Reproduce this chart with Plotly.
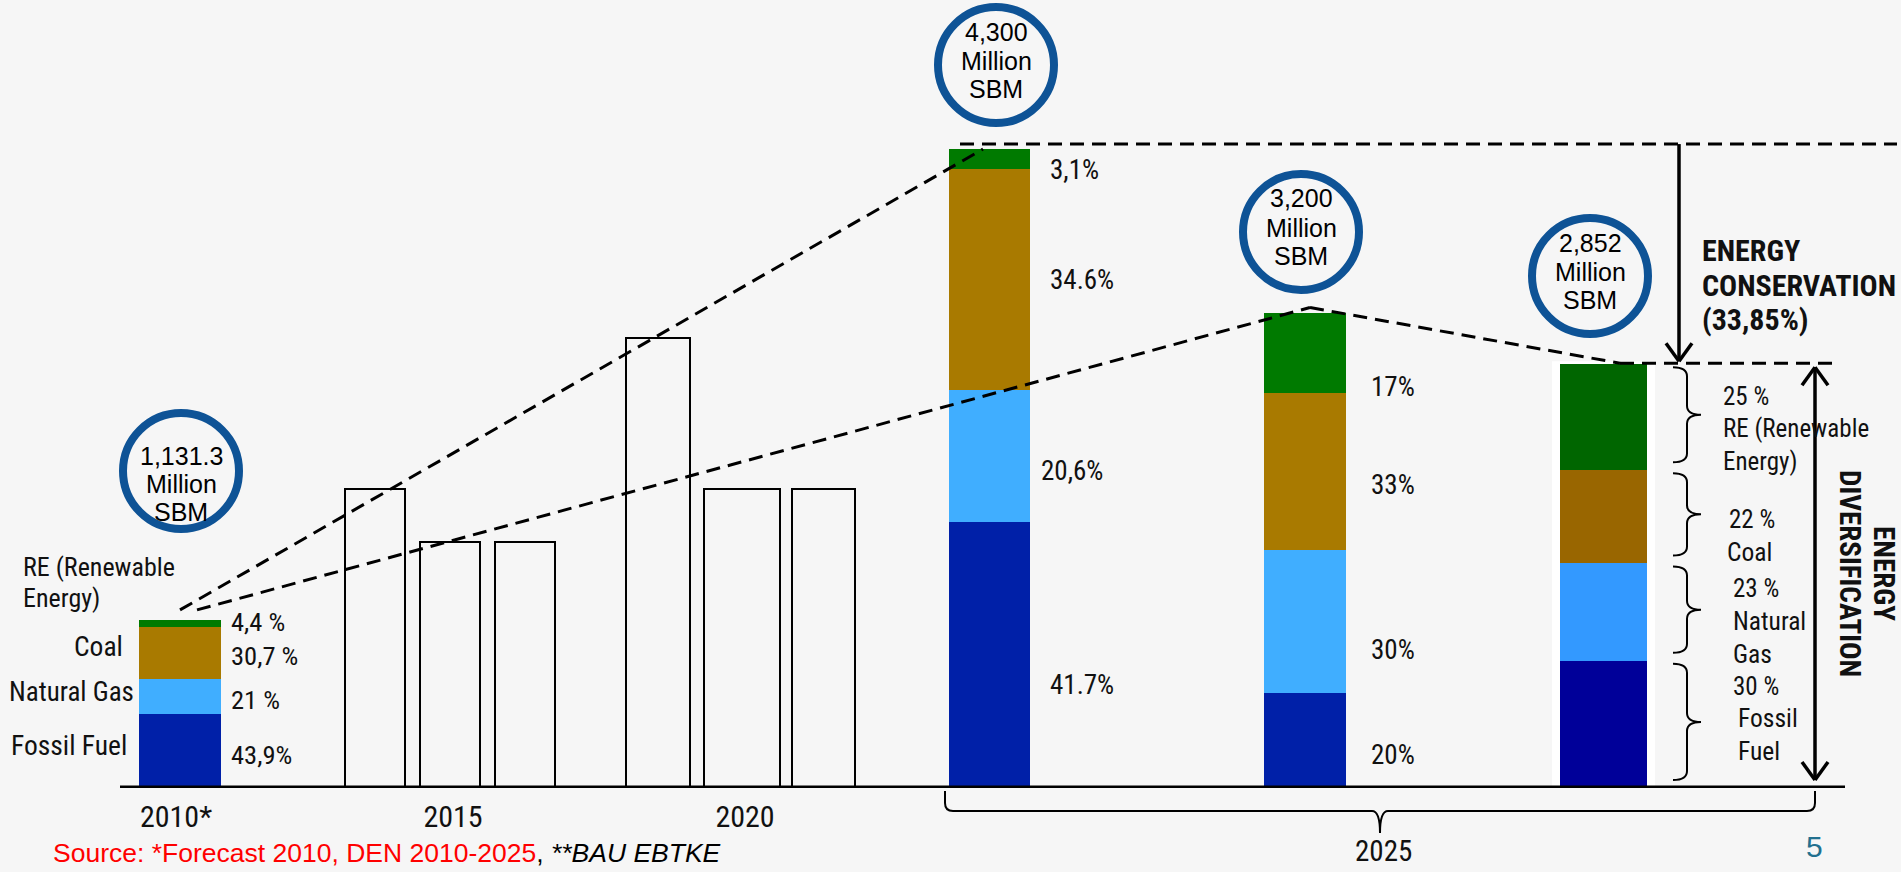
import plotly.graph_objects as go

# ---------------- data ----------------
scenario_names = ["2010", "2025 BAU", "2025 DEN", "2025 target"]
total_msbm = [1131.3, 4300, 3200, 2852]
total_text = ["1,131.3", "4,300", "3,200", "2,852"]

fossil_pct = [43.9, 41.7, 20, 30]
gas_pct = [21, 20.6, 30, 23]
coal_pct = [30.7, 34.6, 33, 22]
re_pct = [4.4, 3.1, 17, 25]

fossil_text = ["43,9%", "41.7%", "20%", "30 %"]
gas_text = ["21 %", "20,6%", "30%", "23 %"]
coal_text = ["30,7 %", "34.6%", "33%", "22 %"]
re_text = ["4,4 %", "3,1%", "17%", "25 %"]

interim_msbm = [2010, 1655, 1655, 3030, 2010, 2010]

year_ticks = ["2010*", "2015", "2020"]
year_2025 = "2025"

# ---------------- layout constants ----------------
W, H = 1901, 872
BASE_PX = 788          # pixel row of the baseline
Y_PER_PX = 6.73        # MSBM per pixel
Y_MAX = BASE_PX * Y_PER_PX

main_x = [180, 989.5, 1305, 1603.5]
main_w = [82, 81, 82, 87]
interim_x = [375, 450, 525, 658, 742, 823]
interim_w = [60, 60, 60, 64, 76, 63]
tick_x = [176, 453, 745]

NARROW = "Liberation Sans Narrow, Arial Narrow, Roboto Condensed, DejaVu Sans Condensed, sans-serif"
SANS = "Liberation Sans, Arial, sans-serif"
RING = "#0E5396"

seg_colors = {
    "Fossil Fuel": ["#0020A8", "#0020A8", "#0020A8", "#000099"],
    "Natural Gas": ["#40AEFF", "#40AEFF", "#40AEFF", "#3399FF"],
    "Coal": ["#A97A00", "#A97A00", "#A97A00", "#996600"],
    "RE": ["#007A00", "#007A00", "#007A00", "#006600"],
}


def dy(px):
    """pixel distance -> MSBM"""
    return px * Y_PER_PX


def px_x(x):
    return x / W


def px_y(y):
    return 1 - y / H


segments = []
for name, pct in [("Fossil Fuel", fossil_pct), ("Natural Gas", gas_pct),
                  ("Coal", coal_pct), ("RE", re_pct)]:
    segments.append((name, [t * p / 100 for t, p in zip(total_msbm, pct)]))

fig = go.Figure()

for name, vals in segments:
    fig.add_trace(go.Bar(
        x=main_x, y=vals, width=main_w, name=name,
        marker=dict(color=seg_colors[name], line=dict(width=0)),
        hovertext=scenario_names, showlegend=False,
    ))

fig.add_trace(go.Bar(
    x=interim_x, y=interim_msbm, width=interim_w, name="interim",
    marker=dict(color="rgba(0,0,0,0)", line=dict(color="black", width=2.5)),
    showlegend=False,
))

shapes = []

# white panel behind the 2852 bar
shapes.append(dict(type="rect", xref="x", yref="y", layer="below",
                   x0=main_x[3] - main_w[3] / 2 - 8, x1=main_x[3] + main_w[3] / 2 + 8,
                   y0=0, y1=total_msbm[3] + dy(3),
                   fillcolor="white", line=dict(width=0)))

# baseline
shapes.append(dict(type="line", xref="x", yref="y", x0=120, x1=1845, y0=0, y1=0,
                   line=dict(color="black", width=5)))

DASH = dict(color="black", width=3, dash="14px,8px")
top_level = total_msbm[1] + dy(5)
low_level = total_msbm[3] + dy(1)
start_2010 = total_msbm[0] + dy(10)

# growth trend lines from 2010
shapes.append(dict(type="line", xref="x", yref="y", x0=main_x[0], y0=start_2010,
                   x1=983, y1=total_msbm[1], line=DASH))
shapes.append(dict(type="line", xref="x", yref="y", x0=main_x[0] + 17, y0=start_2010,
                   x1=1310, y1=total_msbm[2] + dy(5), line=DASH))
shapes.append(dict(type="line", xref="x", yref="y", x0=1310, y0=total_msbm[2] + dy(5),
                   x1=1620, y1=low_level, line=DASH))
# reference levels
shapes.append(dict(type="line", xref="x", yref="y", x0=960, x1=1897,
                   y0=top_level, y1=top_level, line=DASH))
shapes.append(dict(type="line", xref="x", yref="y", x0=1620, x1=1837,
                   y0=low_level, y1=low_level, line=DASH))

ARROW = dict(color="black", width=3.5)


def chevron(x, tip, up):
    s = 1 if up else -1
    return [
        dict(type="line", xref="x", yref="y", x0=x - 13, y0=tip - s * dy(18),
             x1=x, y1=tip, line=ARROW),
        dict(type="line", xref="x", yref="y", x0=x + 13, y0=tip - s * dy(18),
             x1=x, y1=tip, line=ARROW),
    ]


# energy conservation arrow
cons_x = 1679
shapes.append(dict(type="line", xref="x", yref="y", x0=cons_x, x1=cons_x,
                   y0=top_level, y1=low_level + dy(2), line=ARROW))
shapes += chevron(cons_x, low_level + dy(2), up=False)

# energy diversification arrow
div_x = 1815
div_top = low_level - dy(4)
div_bot = dy(8)
shapes.append(dict(type="line", xref="x", yref="y", x0=div_x, x1=div_x,
                   y0=div_top, y1=div_bot, line=ARROW))
shapes += chevron(div_x, div_top, up=True)
shapes += chevron(div_x, div_bot, up=False)


# curly braces beside the 2852 bar, one per segment
def brace_right(y_top, y_bot, xe=1673, xv=1687, xt=1701):
    h = dy(9)
    ym = (y_top + y_bot) / 2
    return (f"M {xe},{y_top} Q {xv},{y_top} {xv},{y_top - h} "
            f"L {xv},{ym + h} Q {xv},{ym} {xt},{ym} "
            f"Q {xv},{ym} {xv},{ym - h} "
            f"L {xv},{y_bot + h} Q {xv},{y_bot} {xe},{y_bot}")


cum = 0
bounds = []
for _, vals in segments:
    bounds.append((cum, cum + vals[3]))
    cum += vals[3]
for lo, hi in bounds:
    shapes.append(dict(type="path", xref="x", yref="y",
                       path=brace_right(hi - dy(3), lo + dy(8)),
                       line=dict(color="black", width=2)))


# horizontal brace under the 2025 group (paper coordinates)
def pt(x, y):
    return f"{px_x(x)},{px_y(y)}"


xl, xr, xm = 945, 1815, 1380
ye, ys, ytip, r = 791, 811, 833, 8
brace_path = (f"M {pt(xl, ye)} L {pt(xl, ys - r)} Q {pt(xl, ys)} {pt(xl + r, ys)} "
              f"L {pt(xm - r, ys)} Q {pt(xm, ys)} {pt(xm, ytip)} "
              f"Q {pt(xm, ys)} {pt(xm + r, ys)} L {pt(xr - r, ys)} "
              f"Q {pt(xr, ys)} {pt(xr, ys - r)} L {pt(xr, ye)}")
shapes.append(dict(type="path", xref="paper", yref="paper", path=brace_path,
                   line=dict(color="black", width=2)))

# total-volume rings
ring_pos = [(181, 471), (996, 65), (1301, 232), (1590, 276)]
ring_line_y = [(456, 484, 512), (32, 61, 89), (198, 228, 256), (243, 272, 300)]
R = 58
for cx, cy in ring_pos:
    shapes.append(dict(type="circle", xref="paper", yref="paper",
                       x0=px_x(cx - R), x1=px_x(cx + R),
                       y0=px_y(cy + R), y1=px_y(cy - R),
                       line=dict(color=RING, width=8)))

annotations = []


def label(text, x, y, size=27, family=NARROW, anchor="left", color="#111111", **kw):
    annotations.append(dict(text=text, x=px_x(x), y=px_y(y), xref="paper", yref="paper",
                            xanchor=anchor, yanchor="middle", showarrow=False,
                            font=dict(family=family, size=size, color=color), **kw))


for (cx, _), ys3, tt in zip(ring_pos, ring_line_y, total_text):
    for line_txt, ly in zip([tt, "Million", "SBM"], ys3):
        label(line_txt, cx, ly, size=25, family=SANS, anchor="center", color="black")

# 2010 segment labels
for txt, y in zip([re_text[0], coal_text[0], gas_text[0], fossil_text[0]],
                  [621, 655, 699, 754]):
    label(txt, 229, y, size=26.5)
label("RE (Renewable", 21, 567, size=26)
label("Energy)", 21, 598, size=26)
label("Coal", 125, 646, size=27.5, anchor="right")
label("Natural Gas", 7, 692, size=27)
label("Fossil Fuel", 9, 745, size=27.5)

# 4,300 bar labels
for txt, (x, y) in zip([re_text[1], coal_text[1], gas_text[1], fossil_text[1]],
                       [(1048, 170), (1048, 280), (1039, 471), (1048, 685)]):
    label(txt, x, y)

# 3,200 bar labels
for txt, y in zip([re_text[2], coal_text[2], gas_text[2], fossil_text[2]],
                  [387, 485, 650, 755]):
    label(txt, 1369, y)

# 2,852 bar labels
label(re_text[3], 1721, 396, size=25)
label("RE (Renewable", 1721, 428, size=25)
label("Energy)", 1721, 461, size=25)
label(coal_text[3], 1727, 519, size=25)
label("Coal", 1725, 552, size=25.5)
label(gas_text[3], 1731, 588, size=25)
label("Natural", 1731, 621, size=25.5)
label("Gas", 1731, 654, size=25.5)
label(fossil_text[3], 1731, 686, size=25)
label("Fossil", 1736, 718, size=25.5)
label("Fuel", 1736, 751, size=25.5)

for txt, y in zip(["ENERGY", "CONSERVATION", "(33,85%)"], [250, 285, 319]):
    label(f"<b>{txt}</b>", 1700, y, size=30)
label("<b>ENERGY</b>", 1884, 573, size=29, anchor="center", textangle=90)
label("<b>DIVERSIFICATION</b>", 1850, 573, size=29, anchor="center", textangle=90)

label(year_2025, 1383, 851, size=29, anchor="center")
label("<span style='color:#FF0000'>Source: *Forecast 2010, DEN 2010-2025</span>, "
      "<i>**BAU EBTKE</i>", 51, 853, size=26.5, family=SANS, color="black")
label("5", 1814, 846, size=30, family=SANS, anchor="center", color="#22708F")

fig.update_layout(
    template="none",
    width=W, height=H,
    margin=dict(l=0, r=0, t=0, b=0),
    paper_bgcolor="#F6F6F6",
    plot_bgcolor="rgba(0,0,0,0)",
    barmode="stack",
    bargap=0,
    showlegend=False,
    xaxis=dict(domain=[0, 1], range=[0, W], tickvals=tick_x, ticktext=year_ticks,
               tickfont=dict(family=NARROW, size=30, color="#111111"),
               ticks="", ticklabelstandoff=8, showgrid=False, zeroline=False,
               showline=False, automargin=False, fixedrange=True),
    yaxis=dict(domain=[(H - BASE_PX) / H, 1], range=[0, Y_MAX], visible=False,
               showgrid=False, zeroline=False, automargin=False, fixedrange=True),
    shapes=shapes,
    annotations=annotations,
)

fig.write_html("out.html")
